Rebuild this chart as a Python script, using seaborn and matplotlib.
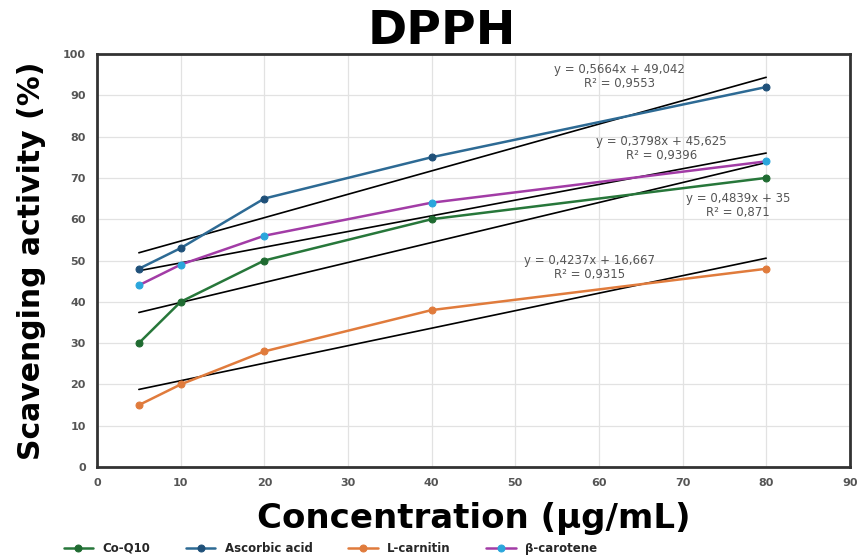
import numpy as np
import pandas as pd
import matplotlib
matplotlib.use("Agg")
import matplotlib.pyplot as plt
import seaborn as sns

# Datos
concentracion = [5, 10, 20, 40, 80]
coq10 = [30, 40, 50, 60, 70]
ascorbico = [48, 53, 65, 75, 92]
lcarnitina = [15, 20, 28, 38, 48]
betacaroteno = [44, 49, 56, 64, 74]

series = ["Co-Q10", "Ascorbic acid", "L-carnitin", "β-carotene"]
pendientes = [0.4839, 0.5664, 0.4237, 0.3798]
intercepto = [35, 49.042, 16.667, 45.625]
r2 = ["0,871", "0,9553", "0,9315", "0,9396"]
ecuaciones = ["y = 0,4839x + 35", "y = 0,5664x + 49,042",
              "y = 0,4237x + 16,667", "y = 0,3798x + 45,625"]

sns.set_style("white")
plt.rcParams['font.family'] = ['DejaVu Sans']

colores_linea = ["#27773a", "#2d6a94", "#e07b3c", "#a23ca6"]
colores_marca = ["#1f6b31", "#1f5079", "#e07b3c", "#2aa6dc"]
valores = [coq10, ascorbico, lcarnitina, betacaroteno]

fig = plt.figure(figsize=(8.61, 5.60), dpi=100)
ax = fig.add_axes([0.1127, 0.166, 0.8743, 0.7376])

for nombre, vals, cl, cm in zip(series, valores, colores_linea, colores_marca):
    df = pd.DataFrame({"x": concentracion, "y": vals})
    sns.lineplot(data=df, x="x", y="y", ax=ax, color=cl, marker="o", markersize=5,
                 markerfacecolor=cm, markeredgecolor=cm, linewidth=1.8, label=nombre)

# Lineas de tendencia
x_tend = np.array([concentracion[0], concentracion[-1]])
for m, b in zip(pendientes, intercepto):
    ax.plot(x_tend, m * x_tend + b, color="black", linewidth=1.2, zorder=1)

# Ecuaciones
pos_texto = [(76.6, 63.3), (62.5, 94.6), (58.9, 48.4), (67.5, 77.0)]
for (tx, ty), ec, r in zip(pos_texto, ecuaciones, r2):
    ax.text(tx, ty, f"{ec}\nR² = {r}", ha="center", va="center",
            fontsize=8.5, color="#555555", linespacing=1.1)

ax.set_xlim(0, 90)
ax.set_ylim(0, 100)
ax.set_xticks(range(0, 91, 10))
ax.set_yticks(range(0, 101, 10))
ax.tick_params(labelsize=8, labelcolor="#555555", length=0, pad=8)
for lbl in ax.get_xticklabels() + ax.get_yticklabels():
    lbl.set_fontweight("bold")
ax.grid(True, color="#e2e2e2", linewidth=0.9)
for s in ax.spines.values():
    s.set_color("#333333")
    s.set_linewidth(2)

ax.set_xlabel("Concentration (µg/mL)", fontsize=24.5, fontweight="bold", labelpad=10, color="black")
ax.set_ylabel("Scavenging activity (%)", fontsize=21.5, fontweight="bold", labelpad=12, color="black")
fig.text(0.513, 0.943, "DPPH", ha="center", va="center", fontsize=34, fontweight="bold", color="black")

ax.legend(loc="upper center", bbox_to_anchor=(0.31, -0.155), ncol=4, frameon=False,
          handlelength=2.5, columnspacing=3, prop={"weight": "bold", "size": 8.5})

fig.savefig("out.png", dpi=100)
